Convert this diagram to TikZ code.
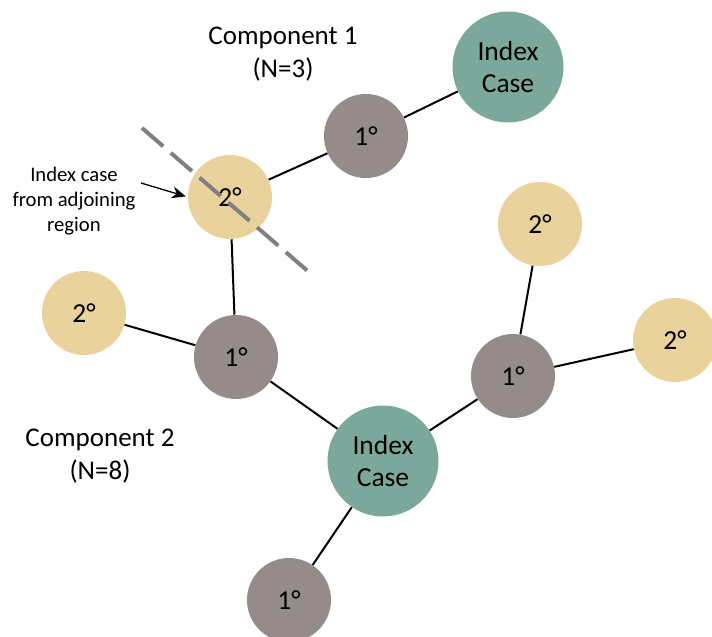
\documentclass[tikz,border=0pt]{standalone}
\usepackage{fontspec}
\setmainfont{Carlito}
\usetikzlibrary{arrows.meta}
\definecolor{indexgreen}{HTML}{7BA89B}
\definecolor{primgray}{HTML}{968B8B}
\definecolor{secntan}{HTML}{EAD29D}
\definecolor{cutgray}{HTML}{808080}

\begin{document}
\begin{tikzpicture}[x=1pt,y=-1pt,semithick]
	\tikzstyle{every node}=[font=\fontsize{27.5}{32}\selectfont]
	\tikzstyle{case}=[circle,inner sep=0pt,text=black,align=center]
	\tikzstyle{index}=[case,fill=indexgreen,minimum size=111pt]
	\tikzstyle{prim}=[case,fill=primgray,minimum size=84pt]
	\tikzstyle{secn}=[case,fill=secntan,minimum size=84pt]
	\tikzstyle{link}=[line width=2pt,black]
	\tikzstyle{cutline}=[draw=cutgray,line width=4pt,dash pattern=on 28pt off 10pt]
	\tikzstyle{note}=[line width=1.3pt,-{Stealth[length=14pt,width=12pt]},shorten >=2pt]

	\clip (0,0) rectangle (712,637);

	% component 1
	\node[index] (idxA)  at (508,67)   {Index\\Case};
	\node[prim]  (priA)  at (366,136)  {1°};
	\node[secn]  (adj)   at (230,197)  {2°};

	% component 2
	\node[index] (idxB)  at (383,461)  {Index\\Case};
	\node[prim]  (priL)  at (236,357)  {1°};
	\node[prim]  (priR)  at (513,376)  {1°};
	\node[prim]  (priD)  at (289,600)  {1°};
	\node[secn]  (secL)  at (84,313)   {2°};
	\node[secn]  (secT)  at (540,224)  {2°};
	\node[secn]  (secR)  at (675,340)  {2°};

	\path[link] (idxA) edge (priA)
		(priA) edge (adj)
		(adj)  edge (priL)
		(priL) edge (secL)
		(priL) edge (idxB)
		(idxB) edge (priR)
		(idxB) edge (priD)
		(priR) edge (secT)
		(priR) edge (secR);

	% labels
	\node[align=center,font=\fontsize{27}{32.5}\selectfont] (compA) at (283,54)  {Component 1\\(N=3)};
	\node[align=center,font=\fontsize{27}{32.5}\selectfont] (compB) at (100,456) {Component 2\\(N=8)};
	\node[align=center,font=\fontsize{20.7}{25}\selectfont] (noteTxt) at (74,201)
		{Index case\\from adjoining\\region};

	% region border and pointer
	\coordinate (cutA) at (142,128);
	\coordinate (cutB) at (310,273);
	\draw[cutline] (cutA) -- (cutB);

	\coordinate (noteTail) at (141,183);
	\draw[note] (noteTail) -- (adj.west);
\end{tikzpicture}
\end{document}
